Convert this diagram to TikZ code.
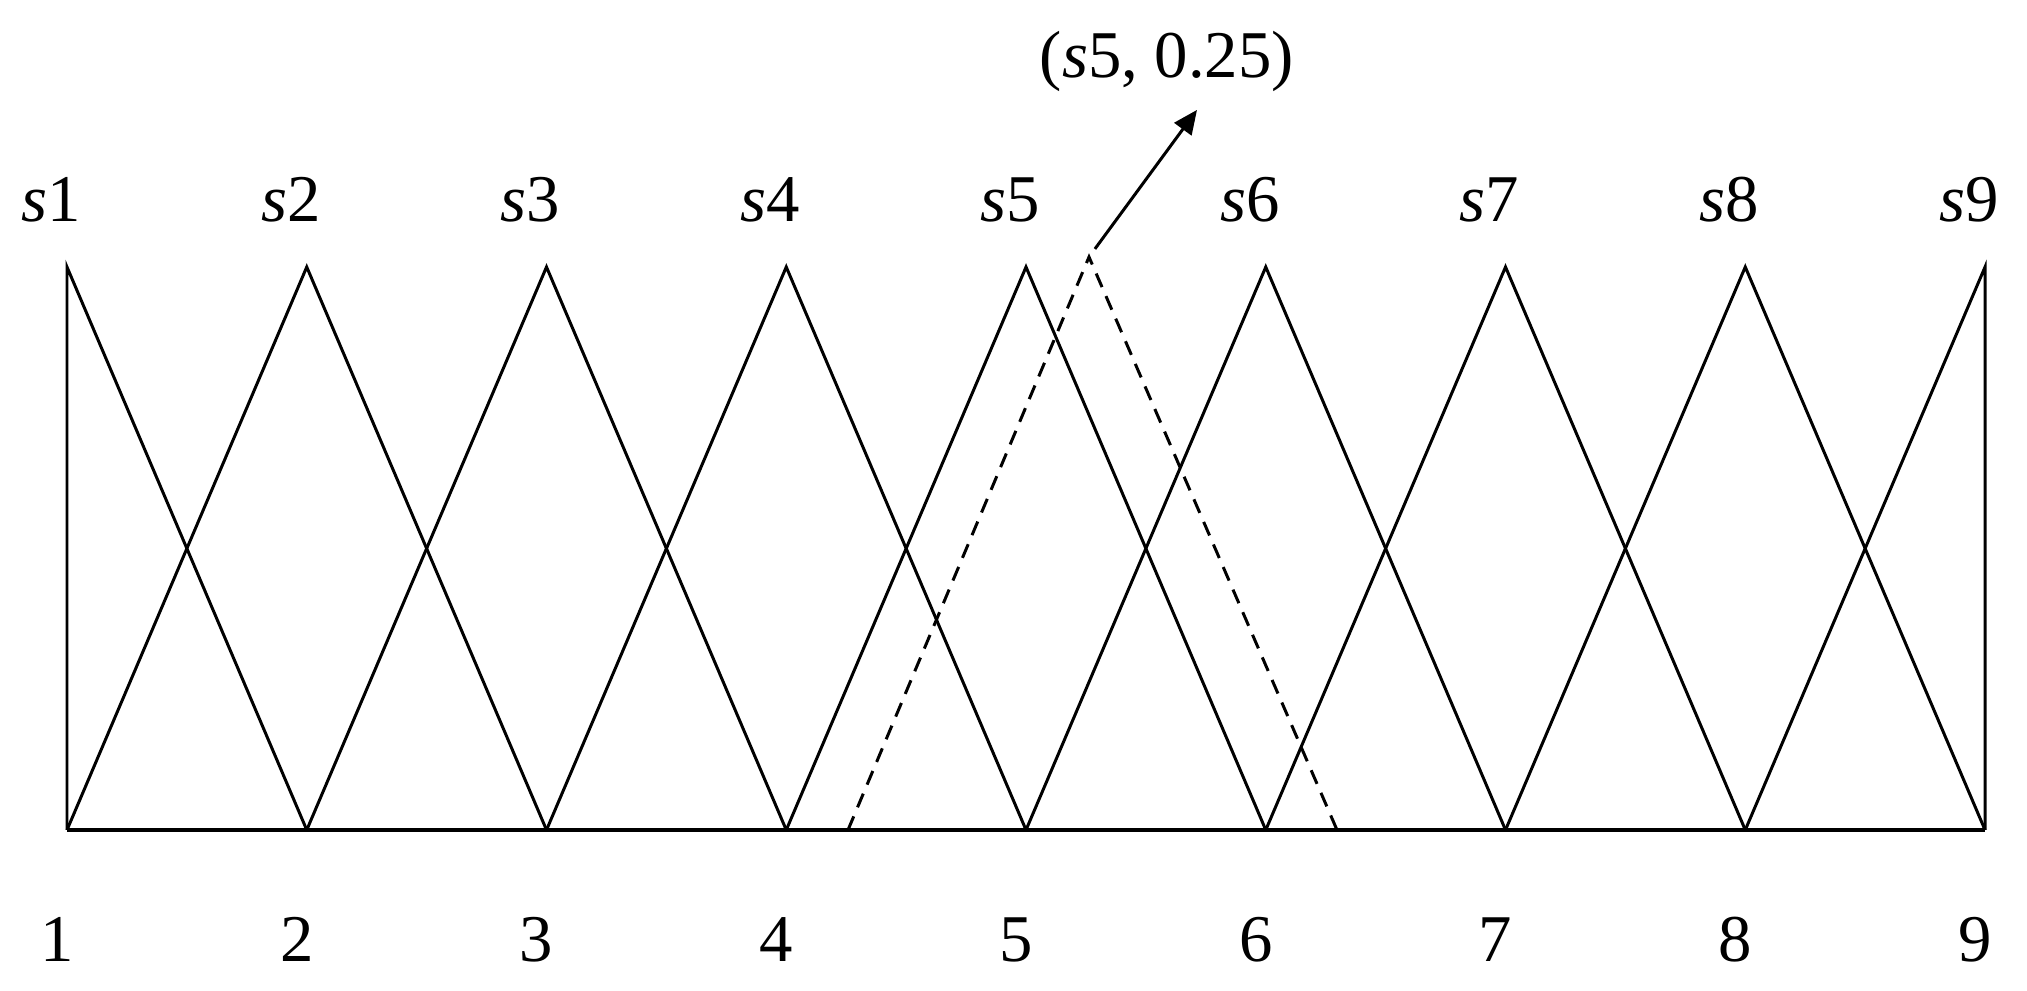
\documentclass[tikz,border=0pt]{standalone}
\usepackage{fontspec}
\setmainfont{Liberation Serif}
\usetikzlibrary{arrows.meta, positioning, calc}
\tikzset{
  member/.style={line width=0.85pt}, % sides of the triangles
  moved/.style={line width=0.85pt, dash pattern=on 4.2pt off 2.8pt}, % the shifted term
  axisline/.style={line width=1.2pt},
  term/.style={font=\fontsize{19}{22}\selectfont, inner sep=0pt, anchor=base},
  pointer/.style={-{Triangle[length=2.4mm,width=2.1mm]}, line width=0.85pt},
}

\begin{document}
\begin{tikzpicture}[x=1cm,y=1cm]
  \useasboundingbox (0,0) rectangle (20.27,9.91);
  % peaks, feet and their labels
  \foreach \i in {1,...,9}{
    \coordinate (p\i) at ({0.67+(\i-1)*2.3975},7.24);
    \coordinate (b\i) at ({0.67+(\i-1)*2.3975},1.61);
    \node[term] (s\i) at ($(p\i)+(-0.16,0.45)$) {\textit{s}\i};
    \node[term] (n\i) at ($(b\i)+(-0.10,-1.32)$) {\i};
  }

  % the axis
  \draw[axisline] (b1) -- (b9);

  % s1 and s9 are half triangles
  \draw[member] (b1) -- (p1) -- (b2);
  \draw[member] (b8) -- (p9) -- (b9);
  \foreach \i [evaluate=\i as \l using int(\i-1), evaluate=\i as \r using int(\i+1)] in {2,...,8}{
    \draw[member] (b\l) -- (p\i) -- (b\r);
  }

  % s5 moved by 0.25
  \coordinate (ql) at (8.48,1.61);
  \coordinate (q) at (10.89,7.34);
  \coordinate (qr) at (13.37,1.61);
  \draw[moved] (ql) -- (q) -- (qr);

  \node[term] (pair) at (11.67,9.13) {(\textit{s}5, 0.25)};
  \coordinate (tip) at ($(pair.south)+(0.30,-0.17)$);
  \draw[pointer, shorten <=0.1cm] (q) -- (tip);
\end{tikzpicture}
\end{document}
